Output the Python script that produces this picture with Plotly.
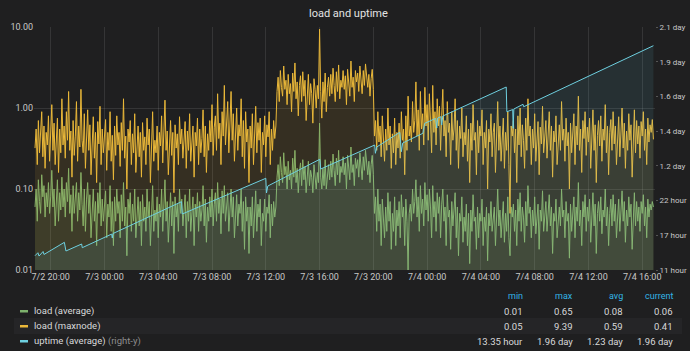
import pandas as pd
import plotly.graph_objects as go

# ---------------- data (5-minute steps) ----------------
start_time = "2017-07-02 18:50"
step = "5min"

load_maxnode = [
    0.32, 0.55, 0.2, 0.7, 0.28, 0.45, 0.9, 0.25, 0.6, 0.18, 0.5, 0.35,
    0.8, 0.22, 0.48, 1.1, 0.3, 0.65, 0.2, 0.42, 0.75, 0.16, 0.55, 0.28,
    1.3, 0.35, 0.6, 0.24, 0.9, 0.4, 1.6, 0.3, 0.52, 0.14, 0.7, 0.26,
    0.45, 1.2, 0.22, 0.6, 0.33, 1.7, 0.4, 0.28, 0.85, 0.18, 0.5, 0.95,
    0.3, 0.62, 0.15, 0.44, 0.78, 0.24, 0.5, 0.12, 0.68, 0.36, 1.05, 0.2,
    0.55, 0.28, 0.4, 0.72, 0.17, 0.5, 0.3, 0.9, 0.22, 0.46, 0.13, 0.6,
    0.26, 0.8, 0.35, 0.5, 0.19, 0.66, 0.3, 1.3, 0.24, 0.45, 0.1, 0.55,
    0.38, 0.7, 0.2, 0.48, 0.28, 0.85, 0.16, 0.42, 0.6, 0.25, 0.5, 0.14,
    0.66, 0.3, 0.44, 0.2, 0.75, 0.35, 0.55, 0.12, 0.48, 0.9, 0.22, 0.4,
    0.28, 0.6, 0.17, 0.5, 0.34, 0.8, 0.21, 0.45, 1.25, 0.3, 0.52, 0.15,
    0.44, 0.7, 0.26, 0.5, 0.09, 0.62, 0.32, 0.48, 0.2, 0.78, 0.36, 0.55,
    0.24, 0.46, 0.68, 0.18, 0.52, 0.3, 0.85, 0.22, 0.4, 0.6, 0.14, 0.5,
    0.34, 0.75, 0.2, 0.55, 0.28, 0.42, 0.95, 0.25, 0.6, 0.16, 0.48, 0.3,
    0.7, 0.38, 1.1, 0.26, 0.58, 0.8, 0.3, 1.5, 0.42, 0.65, 0.2, 0.9,
    0.45, 1.9, 0.35, 0.7, 1.2, 0.28, 0.6, 1.6, 0.4, 0.85, 0.22, 0.55,
    1.0, 0.3, 0.62, 0.45, 1.3, 0.25, 0.7, 0.18, 0.9, 0.38, 0.55, 0.12,
    0.6, 0.32, 0.85, 0.2, 0.5, 1.05, 0.28, 0.66, 0.4, 0.75, 0.16, 0.5,
    0.35, 0.8, 0.25, 0.62, 0.44, 0.9, 0.2, 0.55, 0.3, 0.7, 0.42, 0.6,
    1.6, 2.4, 1.2, 2.9, 1.8, 1.4, 3.3, 1.7, 2.2, 1.1, 2.6, 1.5,
    2.0, 0.9, 2.7, 1.6, 3.6, 1.3, 2.1, 0.8, 1.9, 2.5, 1.2, 2.8,
    1.4, 2.2, 0.7, 1.8, 2.6, 1.1, 2.0, 1.5, 0.65, 2.3, 1.7, 1.0,
    1.9, 1.3, 9.39, 1.6, 0.75, 2.1, 1.2, 2.7, 0.9, 1.8, 2.4, 1.4,
    2.6, 1.5, 3.1, 1.9, 1.2, 2.8, 1.6, 3.4, 1.3, 2.2, 1.8, 2.9,
    1.7, 2.5, 1.1, 3.0, 2.0, 1.4, 3.8, 1.8, 2.4, 1.2, 2.9, 2.1,
    2.7, 1.6, 3.3, 2.2, 1.5, 2.9, 1.9, 3.5, 2.4, 1.8, 2.6, 1.4,
    2.3, 3.0, 1.7, 0.45, 0.7, 0.3, 0.9, 0.38, 0.6, 0.25, 0.8, 0.4,
    0.22, 0.55, 0.3, 1.0, 0.35, 0.6, 0.18, 0.48, 0.28, 0.75, 0.2, 0.5,
    0.32, 0.65, 0.24, 0.9, 0.4, 0.55, 0.15, 0.8, 0.3, 1.4, 0.45, 0.6,
    0.38, 1.2, 0.5, 0.7, 2.1, 0.45, 0.95, 0.3, 1.6, 0.55, 0.85, 0.35,
    1.8, 0.6, 1.1, 0.4, 1.5, 0.7, 0.28, 1.9, 0.5, 0.9, 0.35, 1.3,
    0.6, 1.05, 0.3, 0.8, 1.7, 0.45, 0.7, 0.25, 1.2, 0.5, 0.65, 0.2,
    0.9, 0.4, 0.55, 1.3, 0.3, 0.7, 0.18, 0.6, 0.42, 1.0, 0.25, 0.5,
    0.35, 0.8, 0.22, 0.55, 0.12, 0.65, 0.3, 1.1, 0.4, 0.5, 0.15, 0.7,
    0.28, 0.6, 0.45, 0.95, 0.2, 0.5, 0.32, 0.7, 0.1, 0.55, 0.38, 0.85,
    0.25, 0.5, 0.65, 0.16, 0.45, 1.2, 0.3, 0.6, 0.22, 0.4, 0.75, 0.18,
    0.5, 0.3, 0.9, 0.2, 0.05, 0.6, 0.45, 0.7, 0.28, 0.55, 0.12, 0.8,
    0.35, 1.0, 0.25, 0.62, 0.4, 0.18, 0.75, 0.3, 1.3, 0.45, 0.6, 0.2,
    0.55, 0.32, 0.85, 0.22, 0.5, 0.68, 0.15, 0.58, 0.36, 1.05, 0.28, 0.46,
    0.7, 0.24, 0.5, 0.9, 0.3, 0.6, 0.14, 0.52, 0.38, 0.8, 0.2, 0.44,
    0.62, 0.3, 1.2, 0.4, 0.55, 0.22, 0.75, 0.34, 0.5, 0.1, 0.65, 0.28,
    0.48, 0.85, 0.2, 0.6, 0.35, 1.4, 0.3, 0.55, 0.16, 0.7, 0.42, 0.9,
    0.26, 0.58, 0.38, 0.75, 0.18, 0.5, 0.95, 0.3, 0.62, 0.12, 0.46, 0.7,
    0.34, 0.8, 0.22, 0.55, 0.4, 1.1, 0.28, 0.6, 0.15, 0.5, 0.72, 0.3,
    0.9, 0.36, 0.6, 0.2, 0.48, 0.78, 0.25, 0.55, 1.0, 0.32, 0.65, 0.18,
    0.52, 0.3, 0.85, 0.4, 0.62, 0.14, 0.5, 0.95, 0.28, 0.7, 0.36, 0.6,
    0.24, 0.68, 0.45, 0.9, 0.3, 0.55, 0.2, 0.75, 0.38, 0.62, 0.5, 0.72,
    0.41,
]

load_average = [
    0.06, 0.1, 0.04, 0.13, 0.07, 0.05, 0.15, 0.08, 0.11, 0.045, 0.09, 0.06,
    0.12, 0.05, 0.08, 0.17, 0.06, 0.1, 0.035, 0.07, 0.13, 0.04, 0.09, 0.055,
    0.14, 0.06, 0.1, 0.045, 0.12, 0.07, 0.18, 0.05, 0.085, 0.03, 0.11, 0.05,
    0.07, 0.12, 0.04, 0.09, 0.055, 0.16, 0.065, 0.035, 0.1, 0.03, 0.075, 0.12,
    0.05, 0.085, 0.025, 0.06, 0.1, 0.04, 0.07, 0.02, 0.09, 0.05, 0.12, 0.035,
    0.075, 0.04, 0.06, 0.095, 0.025, 0.065, 0.045, 0.11, 0.03, 0.07, 0.02, 0.08,
    0.04, 0.1, 0.05, 0.07, 0.025, 0.085, 0.04, 0.12, 0.035, 0.06, 0.015, 0.075,
    0.05, 0.09, 0.03, 0.065, 0.04, 0.1, 0.025, 0.055, 0.08, 0.035, 0.07, 0.02,
    0.085, 0.04, 0.06, 0.03, 0.1, 0.045, 0.07, 0.02, 0.065, 0.11, 0.03, 0.055,
    0.04, 0.08, 0.025, 0.065, 0.045, 0.1, 0.03, 0.06, 0.13, 0.04, 0.07, 0.022,
    0.06, 0.09, 0.035, 0.07, 0.016, 0.08, 0.045, 0.065, 0.03, 0.1, 0.05, 0.075,
    0.035, 0.06, 0.085, 0.025, 0.07, 0.04, 0.1, 0.03, 0.055, 0.08, 0.02, 0.065,
    0.045, 0.09, 0.03, 0.07, 0.04, 0.055, 0.11, 0.035, 0.075, 0.022, 0.06, 0.04,
    0.08, 0.045, 0.1, 0.035, 0.065, 0.09, 0.04, 0.12, 0.05, 0.075, 0.028, 0.095,
    0.05, 0.11, 0.04, 0.07, 0.09, 0.03, 0.06, 0.1, 0.045, 0.08, 0.025, 0.06,
    0.085, 0.035, 0.065, 0.05, 0.1, 0.03, 0.07, 0.018, 0.08, 0.04, 0.06, 0.016,
    0.06, 0.035, 0.08, 0.025, 0.055, 0.095, 0.03, 0.065, 0.045, 0.075, 0.02, 0.05,
    0.04, 0.075, 0.03, 0.06, 0.05, 0.085, 0.025, 0.065, 0.035, 0.07, 0.045, 0.06,
    0.14, 0.2, 0.11, 0.25, 0.16, 0.12, 0.28, 0.15, 0.19, 0.1, 0.22, 0.13,
    0.17, 0.1, 0.24, 0.14, 0.3, 0.12, 0.18, 0.09, 0.16, 0.21, 0.11, 0.23,
    0.13, 0.19, 0.09, 0.16, 0.22, 0.11, 0.17, 0.14, 0.09, 0.2, 0.15, 0.1,
    0.16, 0.12, 0.65, 0.14, 0.1, 0.18, 0.11, 0.23, 0.1, 0.16, 0.2, 0.13,
    0.22, 0.14, 0.27, 0.17, 0.11, 0.24, 0.15, 0.3, 0.12, 0.19, 0.16, 0.25,
    0.15, 0.21, 0.1, 0.26, 0.18, 0.13, 0.33, 0.16, 0.2, 0.11, 0.24, 0.18,
    0.23, 0.14, 0.28, 0.19, 0.13, 0.25, 0.17, 0.3, 0.2, 0.15, 0.22, 0.12,
    0.2, 0.26, 0.15, 0.05, 0.08, 0.03, 0.1, 0.04, 0.065, 0.02, 0.075, 0.035,
    0.025, 0.06, 0.03, 0.09, 0.04, 0.07, 0.018, 0.05, 0.03, 0.08, 0.02, 0.055,
    0.035, 0.07, 0.025, 0.085, 0.045, 0.06, 0.02, 0.075, 0.04, 0.01, 0.05, 0.065,
    0.04, 0.1, 0.05, 0.07, 0.13, 0.045, 0.08, 0.03, 0.11, 0.05, 0.075, 0.035,
    0.12, 0.055, 0.085, 0.04, 0.1, 0.06, 0.025, 0.11, 0.045, 0.07, 0.03, 0.09,
    0.05, 0.08, 0.025, 0.065, 0.1, 0.04, 0.06, 0.02, 0.085, 0.045, 0.055, 0.018,
    0.07, 0.035, 0.05, 0.09, 0.025, 0.06, 0.015, 0.05, 0.04, 0.08, 0.022, 0.045,
    0.03, 0.065, 0.02, 0.05, 0.012, 0.055, 0.03, 0.085, 0.04, 0.045, 0.018, 0.06,
    0.025, 0.05, 0.04, 0.075, 0.02, 0.045, 0.03, 0.06, 0.013, 0.05, 0.035, 0.07,
    0.03, 0.05, 0.06, 0.02, 0.045, 0.1, 0.035, 0.055, 0.025, 0.04, 0.07, 0.022,
    0.05, 0.03, 0.08, 0.025, 0.015, 0.06, 0.045, 0.065, 0.03, 0.055, 0.02, 0.075,
    0.04, 0.09, 0.03, 0.06, 0.045, 0.022, 0.07, 0.035, 0.11, 0.05, 0.06, 0.025,
    0.055, 0.035, 0.08, 0.028, 0.05, 0.065, 0.018, 0.055, 0.04, 0.095, 0.03, 0.05,
    0.07, 0.03, 0.05, 0.085, 0.035, 0.06, 0.016, 0.05, 0.04, 0.075, 0.025, 0.045,
    0.06, 0.035, 0.1, 0.045, 0.055, 0.025, 0.07, 0.04, 0.05, 0.014, 0.065, 0.03,
    0.05, 0.08, 0.025, 0.06, 0.04, 0.12, 0.035, 0.055, 0.02, 0.07, 0.045, 0.085,
    0.03, 0.06, 0.04, 0.075, 0.022, 0.05, 0.09, 0.035, 0.065, 0.016, 0.05, 0.07,
    0.04, 0.08, 0.028, 0.055, 0.045, 0.1, 0.035, 0.06, 0.02, 0.05, 0.075, 0.035,
    0.085, 0.04, 0.065, 0.025, 0.05, 0.075, 0.03, 0.055, 0.095, 0.04, 0.07, 0.022,
    0.055, 0.035, 0.08, 0.045, 0.065, 0.018, 0.05, 0.09, 0.035, 0.07, 0.04, 0.06,
    0.03, 0.07, 0.05, 0.085, 0.035, 0.06, 0.025, 0.075, 0.045, 0.065, 0.055, 0.07,
    0.06,
]

uptime_times = [
    "2017-07-02 18:50", "2017-07-02 19:03", "2017-07-02 19:08", "2017-07-02 19:26",
    "2017-07-02 19:30", "2017-07-02 21:01", "2017-07-02 21:08", "2017-07-02 22:18",
    "2017-07-02 22:21", "2017-07-03 00:32", "2017-07-03 00:35", "2017-07-03 00:38",
    "2017-07-03 05:44", "2017-07-03 05:47", "2017-07-03 12:00", "2017-07-03 12:03",
    "2017-07-03 12:09", "2017-07-03 16:01", "2017-07-03 16:05", "2017-07-03 20:06",
    "2017-07-03 20:09", "2017-07-03 20:15", "2017-07-03 21:58", "2017-07-03 22:05",
    "2017-07-03 22:11", "2017-07-03 23:41", "2017-07-03 23:49", "2017-07-04 00:38",
    "2017-07-04 00:43", "2017-07-04 00:47", "2017-07-04 01:01", "2017-07-04 01:05",
    "2017-07-04 01:10", "2017-07-04 05:53", "2017-07-04 05:56", "2017-07-04 06:22",
    "2017-07-04 06:24", "2017-07-04 06:27", "2017-07-04 07:08", "2017-07-04 07:11",
    "2017-07-04 16:50",
]
uptime_hours = [
    13.35, 13.83, 13.30, 14.03,
    13.55, 15.50, 14.11, 15.23,
    14.64, 16.82, 16.19, 16.91,
    22.02, 20.04, 25.77, 23.41,
    24.53, 28.82, 27.26, 31.11,
    29.78, 30.79, 33.15, 30.04,
    31.43, 32.99, 34.59, 35.38,
    33.84, 35.44, 35.65, 34.32,
    35.76, 40.41, 36.45, 36.80,
    33.79, 36.88, 37.64, 37.25,
    47.04,
]

left_tick_vals = [0.01, 0.1, 1, 10]
left_tick_text = ["0.01", "0.10", "1.00", "10.00"]
right_tick_vals = [11.06, 16.63, 22.20, 27.77, 33.33, 38.90, 44.47, 50.04]
right_tick_text = ["11 hour", "17 hour", "22 hour", "1.2 day", "1.4 day",
                   "1.6 day", "1.9 day", "2.1 day"]

legend_names = ["load (average)", "load (maxnode)", "uptime (average)"]
legend_headers = ["min", "max", "avg", "current"]
legend_values = [
    ["0.01", "0.65", "0.08", "0.06"],
    ["0.05", "9.39", "0.59", "0.41"],
    ["13.35 hour", "1.96 day", "1.23 day", "1.96 day"],
]

assert len(load_average) == len(load_maxnode)

# ---------------- styling ----------------
W, H = 690, 351
ML, MR, MT, MB = 34, 35, 27, 81
PW, PH = W - ML - MR, H - MT - MB
GREEN, YELLOW, BLUE = "#7EB26D", "#EAB839", "#6ED0E0"
FONT = "Roboto, Liberation Sans, sans-serif"
TXT = "#d8d9da"


def px(x):
    return (x - ML) / PW


def py(y):
    return (H - MB - y) / PH


times = pd.date_range(start_time, periods=len(load_average), freq=step)
base = [1e-4] * len(times)

fig = go.Figure()
fig.add_trace(go.Scatter(x=times, y=base, mode="lines", line=dict(width=0),
                         showlegend=False, hoverinfo="skip"))
fig.add_trace(go.Scatter(x=times, y=load_average, mode="lines", name=legend_names[0],
                         line=dict(color=GREEN, width=1), fill="tonexty",
                         fillcolor="rgba(126,178,109,0.11)", showlegend=False))
fig.add_trace(go.Scatter(x=times, y=base, mode="lines", line=dict(width=0),
                         showlegend=False, hoverinfo="skip"))
fig.add_trace(go.Scatter(x=times, y=load_maxnode, mode="lines", name=legend_names[1],
                         line=dict(color=YELLOW, width=1), fill="tonexty",
                         fillcolor="rgba(234,184,57,0.11)", showlegend=False))
fig.add_trace(go.Scatter(x=pd.to_datetime(uptime_times), y=uptime_hours, mode="lines",
                         name=legend_names[2], yaxis="y2",
                         line=dict(color=BLUE, width=1), fill="tozeroy",
                         fillcolor="rgba(110,208,224,0.10)", showlegend=False))

grid = "rgba(255,255,255,0.10)"
tickfont = dict(size=9, color="#c8c8c8", family=FONT)
fig.update_layout(
    width=W, height=H,
    margin=dict(l=ML, r=MR, t=MT, b=MB, pad=0, autoexpand=False),
    paper_bgcolor="#1f1f20", plot_bgcolor="#1f1f20",
    font=dict(family=FONT, color=TXT, size=10),
    showlegend=False,
    xaxis=dict(
        type="date", automargin=False,
        range=["2017-07-02 18:45:30", "2017-07-04 16:57"],
        tick0="2017-07-02 20:00", dtick=4 * 3600 * 1000,
        tickformat="%-m/%-d %H:%M",
        showgrid=True, gridcolor=grid, gridwidth=1,
        zeroline=False, showline=False, ticks="",
        tickfont=tickfont,
    ),
    yaxis=dict(
        type="log", range=[-2, 1], automargin=False,
        tickvals=left_tick_vals, ticktext=left_tick_text,
        showgrid=True, gridcolor=grid, gridwidth=1,
        zeroline=False, showline=False, ticks="",
        tickfont=tickfont,
    ),
    yaxis2=dict(
        overlaying="y", side="right", automargin=False,
        range=[right_tick_vals[0], right_tick_vals[-1]],
        tickvals=right_tick_vals, ticktext=right_tick_text,
        showgrid=False, zeroline=False, showline=False,
        ticks="outside", ticklen=2, tickcolor="#555",
        tickfont=dict(size=8, color="#c8c8c8", family=FONT),
    ),
)

shapes = []
annotations = []
annotations.append(dict(text="load and uptime", x=px(348), y=py(13),
                        xref="paper", yref="paper", showarrow=False,
                        xanchor="center", yanchor="middle",
                        font=dict(size=11, color="#e3e3e3", family=FONT)))

head_y = 296
row_y = [311, 326, 341]
col_right = [524, 574, 624, 674]
colors = [GREEN, YELLOW, BLUE]

shapes.append(dict(type="rect", xref="paper", yref="paper",
                   x0=px(14), x1=px(682), y0=py(334), y1=py(318),
                   fillcolor="#252527", line=dict(width=0), layer="below"))

for h, cx in zip(legend_headers, col_right):
    annotations.append(dict(text=h, x=px(cx), y=py(head_y), xref="paper", yref="paper",
                            showarrow=False, xanchor="right", yanchor="middle",
                            borderpad=0,
                            font=dict(size=9, color="#33b5e5", family=FONT)))
for i, (name, vals, c) in enumerate(zip(legend_names, legend_values, colors)):
    yy = row_y[i]
    shapes.append(dict(type="rect", xref="paper", yref="paper",
                       x0=px(20), x1=px(28), y0=py(yy + 1.5), y1=py(yy - 1),
                       fillcolor=c, line=dict(width=0)))
    label = name
    if i == 2:
        label = name + " <span style='color:#8e8e8e'>(right-y)</span>"
    annotations.append(dict(text=label, x=px(33), y=py(yy), xref="paper", yref="paper",
                            showarrow=False, xanchor="left", yanchor="middle",
                            borderpad=0,
                            font=dict(size=9.5, color=TXT, family=FONT)))
    for v, cx in zip(vals, col_right):
        annotations.append(dict(text=v, x=px(cx), y=py(yy), xref="paper", yref="paper",
                                showarrow=False, xanchor="right", yanchor="middle",
                                borderpad=0,
                                font=dict(size=9.5, color=TXT, family=FONT)))

fig.update_layout(shapes=shapes, annotations=annotations)
fig.write_html("out.html")
